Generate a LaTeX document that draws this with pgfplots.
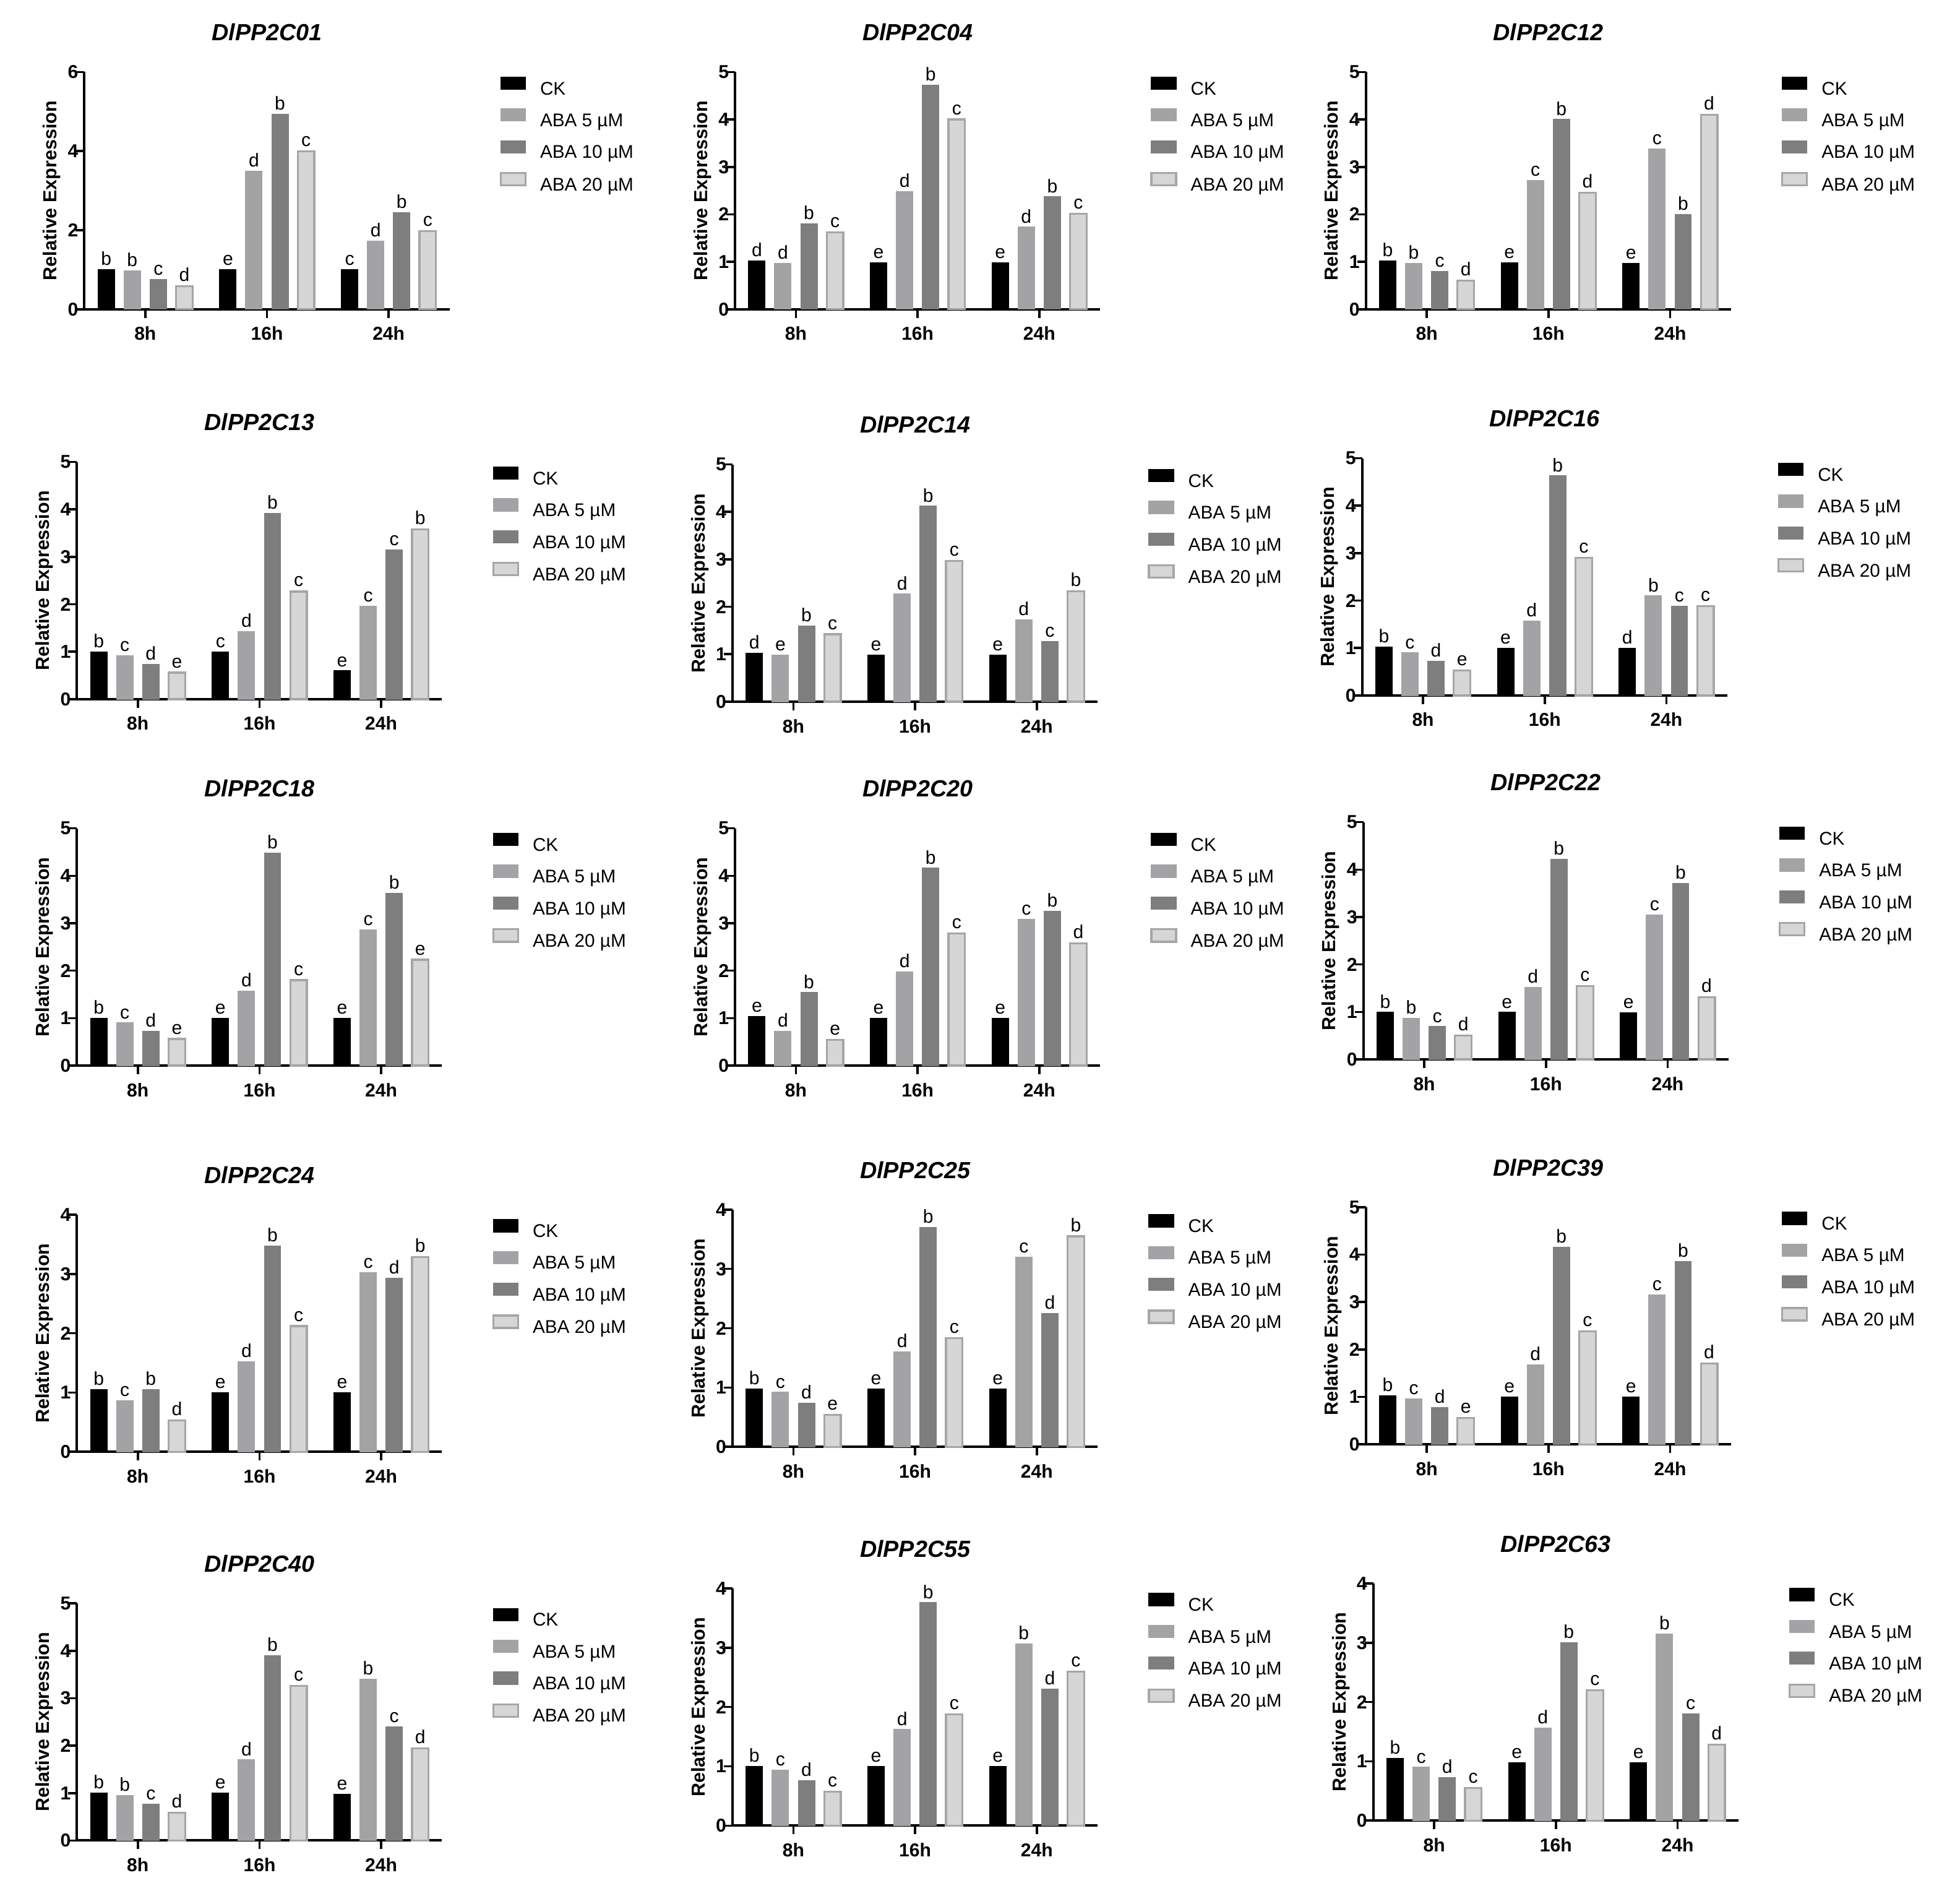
\documentclass[border=0pt]{standalone}
\usepackage{fontspec}
\setmainfont{Liberation Sans}
\usepackage{pgfplots}
\usepackage{pgfplotstable}
\pgfplotsset{compat=1.18}

\definecolor{cA5}{HTML}{A3A3A6}
\definecolor{cA10}{HTML}{7E7E7E}
\definecolor{cA20}{HTML}{D6D6D6}
\definecolor{cA20e}{HTML}{A6A6A6}

\pgfplotsset{
  panel/.style={
    scale only axis, width=147pt, height=95.5pt,
    xmin=-0.5, xmax=2.5, ymin=0,
    axis x line*=bottom, axis y line*=left,
    axis line style={line width=1pt, -},
    xtick={0,1,2}, xticklabels={8h,16h,24h},
    tick align=outside,
    major tick length=3.5pt,
    every tick/.style={line width=0.9pt, black},
    tick label style={font=\bfseries\fontsize{7.5}{8}\selectfont},
    yticklabel style={xshift=4.5pt},
    /pgf/number format/assume math mode=true,
    ylabel={Relative Expression},
    ylabel shift=-4pt,
    ylabel style={font=\bfseries\fontsize{7.6}{8}\selectfont},
    title style={font=\bfseries\itshape\fontsize{9.4}{10}\selectfont, at={(0.5,1)}, anchor=center, yshift=10pt},
    legend style={draw=none, fill=none, at={(1,1)}, anchor=north west, xshift=20pt, yshift=-1.65pt,
      font=\fontsize{7.4}{8}\selectfont, row sep=4pt, column sep=5.5pt, inner sep=0pt,
      nodes={inner sep=0pt, text height=5.5pt, text depth=1.5pt, anchor=west}},
    legend cell align=left,
    legend image code/.code={\draw[#1] (0pt,0.15pt) rectangle (10pt,5.15pt);},
    nodes near coords, point meta=explicit symbolic,
    every node near coord/.append style={font=\fontsize{7.5}{8}\selectfont, color=black, inner sep=0.5pt, anchor=south, yshift=1pt},
    clip=false,
  },
  barCK/.style={ybar, bar width=0.136, bar shift=0pt, fill=black, draw=black, line width=0.3pt},
  barA5/.style={ybar, bar width=0.136, bar shift=0pt, fill=cA5, draw=cA5, line width=0.3pt},
  barA10/.style={ybar, bar width=0.136, bar shift=0pt, fill=cA10, draw=cA10, line width=0.3pt},
  barA20/.style={ybar, bar width=0.136, bar shift=0pt, fill=cA20, draw=cA20e, line width=0.8pt},
}

% columns: CK, ABA5, ABA10, ABA20 and their letters; rows: 8h, 16h, 24h
\pgfplotstableread{
ck a5 a10 a20 lck la5 la10 la20
1.00 0.98 0.75 0.58 b b c d
1.00 3.50 4.93 4.00 e d b c
1.00 1.72 2.45 1.97 c d b c
}\tA
\pgfplotstableread{
ck a5 a10 a20 lck la5 la10 la20
1.02 0.97 1.80 1.62 d d b c
0.98 2.48 4.72 4.00 e d b c
0.98 1.73 2.37 2.01 e d b c
}\tB
\pgfplotstableread{
ck a5 a10 a20 lck la5 la10 la20
1.02 0.97 0.80 0.60 b b c d
0.98 2.72 4.00 2.46 e c b d
0.97 3.38 2.00 4.10 e c b d
}\tC
\pgfplotstableread{
ck a5 a10 a20 lck la5 la10 la20
1.00 0.92 0.74 0.56 b c d e
1.00 1.43 3.92 2.27 c d b c
0.60 1.96 3.15 3.58 e c c b
}\tD
\pgfplotstableread{
ck a5 a10 a20 lck la5 la10 la20
1.02 0.98 1.60 1.42 d e b c
0.98 2.27 4.12 2.97 e d b c
0.98 1.73 1.27 2.33 e d c b
}\tE
\pgfplotstableread{
ck a5 a10 a20 lck la5 la10 la20
1.02 0.90 0.72 0.53 b c d e
1.00 1.57 4.63 2.90 e d b c
1.00 2.10 1.88 1.88 d b c c
}\tF
\pgfplotstableread{
ck a5 a10 a20 lck la5 la10 la20
1.00 0.90 0.72 0.56 b c d e
1.00 1.57 4.48 1.80 e d b c
1.00 2.86 3.63 2.23 e c b e
}\tG
\pgfplotstableread{
ck a5 a10 a20 lck la5 la10 la20
1.04 0.72 1.54 0.54 e d b e
1.00 1.98 4.16 2.78 e d b c
1.00 3.09 3.25 2.58 e c b d
}\tH
\pgfplotstableread{
ck a5 a10 a20 lck la5 la10 la20
0.99 0.87 0.69 0.50 b b c d
0.99 1.52 4.22 1.55 e d b c
0.98 3.04 3.71 1.31 e c b d
}\tI
\pgfplotstableread{
ck a5 a10 a20 lck la5 la10 la20
1.05 0.86 1.05 0.53 b c b d
1.00 1.52 3.47 2.12 e d b c
1.00 3.02 2.93 3.28 e c d b
}\tJ
\pgfplotstableread{
ck a5 a10 a20 lck la5 la10 la20
0.98 0.92 0.74 0.54 b c d e
0.98 1.60 3.70 1.83 e d b c
0.98 3.20 2.25 3.55 e c d b
}\tK
\pgfplotstableread{
ck a5 a10 a20 lck la5 la10 la20
1.03 0.96 0.78 0.56 b c d e
1.00 1.68 4.16 2.38 e d b c
1.00 3.15 3.86 1.70 e c b d
}\tL
\pgfplotstableread{
ck a5 a10 a20 lck la5 la10 la20
1.00 0.95 0.77 0.59 b b c d
1.00 1.70 3.90 3.26 e d b c
0.98 3.40 2.40 1.94 e b c d
}\tM
\pgfplotstableread{
ck a5 a10 a20 lck la5 la10 la20
1.00 0.94 0.76 0.57 b c d c
1.00 1.62 3.76 1.88 e d b c
1.00 3.07 2.30 2.60 e b d c
}\tN
\pgfplotstableread{
ck a5 a10 a20 lck la5 la10 la20
1.05 0.90 0.73 0.55 b c d c
0.98 1.56 3.00 2.20 e d b c
0.98 3.15 1.80 1.28 e b c d
}\tO

% #1 x of axis left (px), #2 y of axis bottom (px, from top), #3 title, #4 ymax, #5 yticks, #6 table
\newcommand{\panel}[6]{%
\begin{axis}[panel, at={({#1*0.5pt},{(1533-#2)*0.5pt})}, anchor=south west,
  title={#3}, ymax=#4, ytick={#5}]
\addplot[barCK] table[x expr=\coordindex-0.321, y=ck, meta=lck] {#6};
\addplot[barA5] table[x expr=\coordindex-0.107, y=a5, meta=la5] {#6};
\addplot[barA10] table[x expr=\coordindex+0.107, y=a10, meta=la10] {#6};
\addplot[barA20] table[x expr=\coordindex+0.321, y=a20, meta=la20] {#6};
\legend{CK, ABA 5 µM, ABA 10 µM, ABA 20 µM}
\end{axis}}

\begin{document}
\begin{tikzpicture}
\useasboundingbox (0pt,0pt) rectangle (784pt,766.5pt);
\panel{68}{249}{DlPP2C01}{6}{0,2,4,6}{\tA}
\panel{592}{249}{DlPP2C04}{5}{0,1,...,5}{\tB}
\panel{1100}{249}{DlPP2C12}{5}{0,1,...,5}{\tC}
\panel{62}{563}{DlPP2C13}{5}{0,1,...,5}{\tD}
\panel{590}{565}{DlPP2C14}{5}{0,1,...,5}{\tE}
\panel{1097}{560}{DlPP2C16}{5}{0,1,...,5}{\tF}
\panel{62}{858}{DlPP2C18}{5}{0,1,...,5}{\tG}
\panel{592}{858}{DlPP2C20}{5}{0,1,...,5}{\tH}
\panel{1098}{853}{DlPP2C22}{5}{0,1,...,5}{\tI}
\panel{62}{1169}{DlPP2C24}{4}{0,1,...,4}{\tJ}
\panel{590}{1165}{DlPP2C25}{4}{0,1,...,4}{\tK}
\panel{1100}{1163}{DlPP2C39}{5}{0,1,...,5}{\tL}
\panel{62}{1482}{DlPP2C40}{5}{0,1,...,5}{\tM}
\panel{590}{1470}{DlPP2C55}{4}{0,1,...,4}{\tN}
\panel{1106}{1466}{DlPP2C63}{4}{0,1,...,4}{\tO}
\end{tikzpicture}
\end{document}
